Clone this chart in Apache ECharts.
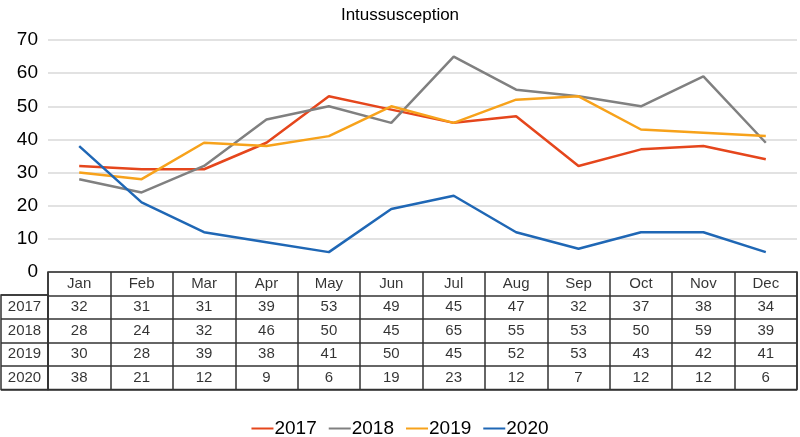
<!DOCTYPE html>
<html><head><meta charset="utf-8">
<script src="https://cdn.jsdelivr.net/npm/echarts@6/dist/echarts.min.js"></script>
<style>html,body{margin:0;padding:0;background:#fff}#c{width:800px;height:437px}</style>
</head><body><div id="c"></div>
<script>
var months = ['Jan','Feb','Mar','Apr','May','Jun','Jul','Aug','Sep','Oct','Nov','Dec'];
var seriesNames = ['2017','2018','2019','2020'];
var v2017 = [32,31,31,39,53,49,45,47,32,37,38,34];
var v2018 = [28,24,32,46,50,45,65,55,53,50,59,39];
var v2019 = [30,28,39,38,41,50,45,52,53,43,42,41];
var v2020 = [38,21,12,9,6,19,23,12,7,12,12,6];
var yTicks = [0,10,20,30,40,50,60,70];
var colors = ['#e5461c','#808080','#f7a21b','#1f67b5'];

var values = [v2017, v2018, v2019, v2020];
var FONT = 'Liberation Sans, Arial, sans-serif';
var rows = ['hdr'].concat(seriesNames);

var cellData = [];
months.forEach(function(m, i){
  cellData.push({value:[i,0], label:{formatter:m}});
  values.forEach(function(arr, r){
    cellData.push({value:[i,r+1], label:{formatter:String(arr[i])}});
  });
});
var rowLabelData = seriesNames.map(function(n, r){ return {value:[0,r], label:{formatter:n}}; });

var lineSeries = seriesNames.map(function(n, k){
  return {name:n, type:'line', xAxisIndex:0, yAxisIndex:0, data:values[k],
    symbol:'none', lineStyle:{width:2.5, color:colors[k]}, itemStyle:{color:colors[k]}};
});

var tableBorder = '#333';
var option = {
  animation:false,
  textStyle:{fontFamily:FONT},
  title:{text:'Intussusception', left:'center', top:2, textStyle:{fontFamily:FONT, fontSize:17, fontWeight:'normal', color:'#000'}},
  legend:{data:seriesNames, top:414, left:'center', itemWidth:22, itemHeight:2, icon:'rect', itemGap:12,
    textStyle:{fontFamily:FONT, fontSize:19, color:'#000', padding:[0,0,0,-4]}},
  grid:[
    {left:48, top:40, width:749, height:232},
    {left:48, top:272, width:749, height:117.5, show:true, borderColor:tableBorder, borderWidth:1.5},
    {left:1, top:295, width:47, height:94.5, show:true, borderColor:tableBorder, borderWidth:1.5}
  ],
  xAxis:[
    {gridIndex:0, type:'category', data:months, boundaryGap:true, axisLine:{show:false}, axisTick:{show:false}, axisLabel:{show:false}},
    {gridIndex:1, type:'category', data:months, boundaryGap:true, axisLine:{show:false}, axisTick:{show:false}, axisLabel:{show:false},
      splitLine:{show:true, interval:0, lineStyle:{color:tableBorder, width:1.5}}},
    {gridIndex:2, type:'category', data:['a'], boundaryGap:true, axisLine:{show:false}, axisTick:{show:false}, axisLabel:{show:false}}
  ],
  yAxis:[
    {gridIndex:0, type:'value', min:0, max:70, interval:10, axisLine:{show:false}, axisTick:{show:false},
      axisLabel:{fontFamily:FONT, fontSize:19, color:'#000', margin:10, formatter:function(v){return yTicks.indexOf(v)>=0?String(v):'';}},
      splitLine:{lineStyle:{color:'#d9d9d9', width:1.5}}},
    {gridIndex:1, type:'category', data:rows, inverse:true, boundaryGap:true, axisLine:{show:false}, axisTick:{show:false}, axisLabel:{show:false},
      splitLine:{show:true, interval:0, lineStyle:{color:tableBorder, width:1.5}}},
    {gridIndex:2, type:'category', data:seriesNames, inverse:true, boundaryGap:true, axisLine:{show:false}, axisTick:{show:false}, axisLabel:{show:false},
      splitLine:{show:true, interval:0, lineStyle:{color:tableBorder, width:1.5}}}
  ],
  series: lineSeries.concat([
    {type:'scatter', xAxisIndex:1, yAxisIndex:1, data:cellData, symbolSize:0, silent:true,
      label:{show:true, position:'inside', fontFamily:FONT, fontSize:15, color:'#000'}},
    {type:'scatter', xAxisIndex:2, yAxisIndex:2, data:rowLabelData, symbolSize:0, silent:true,
      label:{show:true, position:'inside', fontFamily:FONT, fontSize:15, color:'#000'}}
  ])
};
var chart = echarts.init(document.getElementById('c'), null, {renderer:'canvas'});
chart.setOption(option);
</script></body></html>
